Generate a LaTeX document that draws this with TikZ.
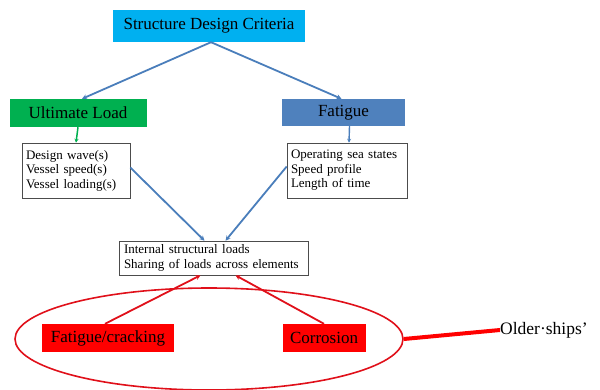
\documentclass[tikz,border=0pt]{standalone}
\usepackage{fontspec}
\setmainfont{Liberation Serif}
\usetikzlibrary{arrows.meta,shapes.geometric}
\definecolor{cyanbox}{HTML}{00B0F0}
\definecolor{greenbox}{HTML}{00B050}
\definecolor{bluebox}{HTML}{4F81BD}
\definecolor{redbox}{HTML}{FF0000}
\definecolor{arrblue}{HTML}{4A7EBB}
\definecolor{arrred}{HTML}{E0101A}
\tikzset{
  hdr/.style={inner sep=0pt, font=\rmfamily\fontsize{17}{19}\selectfont, text=black},
  listbox/.style={draw=black!70, line width=0.6pt, fill=white, inner sep=0pt, align=left, font=\rmfamily\fontsize{13}{14.5}\selectfont, text=black},
  barrow/.style={draw=arrblue, line width=1.8pt, -{Stealth[length=5pt,width=5pt]}},
  garrow/.style={draw=greenbox, line width=1.5pt, -{Stealth[length=4pt,width=4pt]}},
  rarrow/.style={draw=arrred, line width=1.8pt, -{Stealth[length=5pt,width=5pt]}},
}
\begin{document}
\begin{tikzpicture}[x=1pt,y=-1pt]
\useasboundingbox (0,0) rectangle (600,389);
\node[hdr, fill=cyanbox, minimum width=192pt, minimum height=32pt] (sdc) at (209,26) {Structure Design Criteria};
\node[hdr, fill=greenbox, minimum width=137pt, minimum height=28pt] (ult) at (78,113) {Ultimate Load};
\node[hdr, fill=bluebox, minimum width=123pt, minimum height=27pt] (fat) at (343.5,112.5) {Fatigue};
\node[listbox, minimum width=108pt, minimum height=55pt, text width=100pt] (b1) at (76,170.5) {Design wave(s)\\Vessel speed(s)\\Vessel loading(s)};
\node[listbox, minimum width=120pt, minimum height=55pt, text width=112pt] (b2) at (347,170.5) {Operating sea states\\Speed profile\\Length of time};
\node[listbox, minimum width=189pt, minimum height=34pt, text width=179pt] (ins) at (213.5,258) {Internal structural loads\\Sharing of loads across elements};
\node[draw=arrred, line width=1.6pt, ellipse, minimum width=388pt, minimum height=102pt, inner sep=0pt] (ell) at (209,339) {};
\node[hdr, fill=redbox, minimum width=132pt, minimum height=28pt] (fc) at (108,338) {Fatigue/cracking};
\node[hdr, fill=redbox, minimum width=83pt, minimum height=28pt] (cor) at (324,338) {Corrosion};
\node[font=\rmfamily\fontsize{17.5}{19}\selectfont, anchor=west, inner sep=0pt] (old) at (500,330) {Older·ships'};
\draw[barrow] ([xshift=2pt]sdc.south) -- ([xshift=4pt]ult.north);
\draw[barrow] ([xshift=2pt]sdc.south) -- ([xshift=-2pt]fat.north);
\draw[garrow] (ult.south) -- (b1.north);
\draw[barrow, line width=1.4pt, -{Stealth[length=4pt,width=4pt]}] ([xshift=6pt]fat.south) -- ([xshift=2pt]b2.north);
\draw[barrow] ([yshift=3pt]b1.east) -- ([xshift=-9pt]ins.north);
\draw[barrow] ([yshift=4pt]b2.west) -- ([xshift=12pt]ins.north);
\draw[rarrow] ([xshift=-3pt]fc.north) -- ([xshift=-13pt]ins.south);
\draw[rarrow] ([xshift=0pt]cor.north) -- ([xshift=22pt]ins.south);
\draw[draw=redbox, line width=4pt] (ell.east) -- (old.west);
\end{tikzpicture}
\end{document}
